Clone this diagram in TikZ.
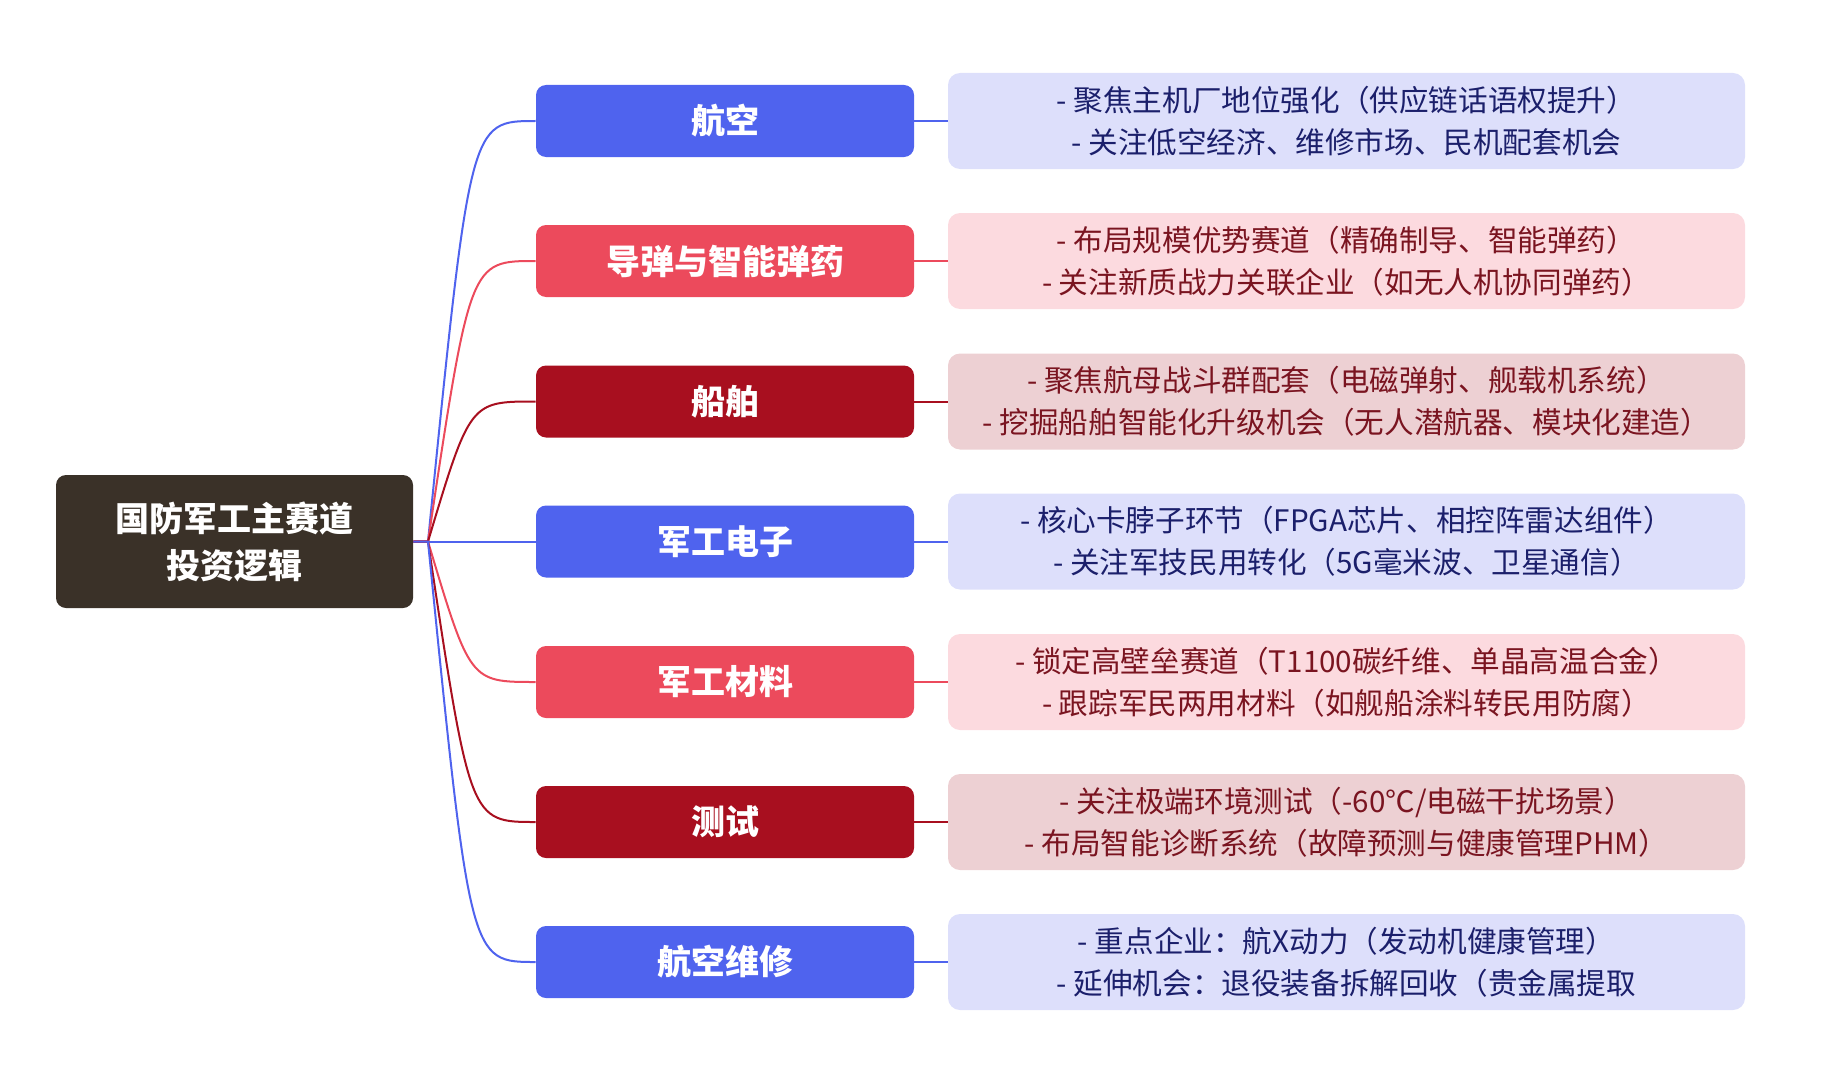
\documentclass[tikz,border=0pt]{standalone}
\usepackage{fontspec}
\setmainfont{Noto Sans CJK SC}
\usepackage{tikz}
\usetikzlibrary{calc}
\definecolor{rootbrown}{HTML}{3A3128}
\definecolor{hkblue}{HTML}{4F63EE}
\definecolor{hkbluebg}{HTML}{DDDFFB}
\definecolor{hkbluetx}{HTML}{1B1F6B}
\definecolor{hkred}{HTML}{EC4A5C}
\definecolor{hkredbg}{HTML}{FCDADF}
\definecolor{hkredtx}{HTML}{7A1420}
\definecolor{hkdark}{HTML}{A80F1F}
\definecolor{hkdarkbg}{HTML}{EDD0D3}

\begin{document}
\begin{tikzpicture}[x=0.5pt,y=-0.5pt,
  rootbox/.style={rounded corners=5pt,fill=rootbrown,text=white,minimum width=178.5pt,minimum height=66.5pt,align=center,font=\bfseries\fontsize{17}{23.5}\selectfont},
  branchbox/.style={rounded corners=5pt,text=white,minimum width=189pt,minimum height=36pt,font=\bfseries\fontsize{17}{20}\selectfont},
  detailbox/.style={rounded corners=6pt,minimum width=398.5pt,minimum height=48pt,align=center,font=\fontsize{14.8}{21}\selectfont},
  link/.style={line width=1pt}]
\useasboundingbox (0,0) rectangle (1830,1070);
\node[rootbox] (root) at (234.5,541.5) {国防军工主赛道\\投资逻辑};
\coordinate (jn) at (428,541.5);
\node[branchbox,fill=hkblue] (b0) at (725,121) {航空};
\node[branchbox,fill=hkred] (b1) at (725,261) {导弹与智能弹药};
\node[branchbox,fill=hkdark] (b2) at (725,401.5) {船舶};
\node[branchbox,fill=hkblue] (b3) at (725,541.5) {军工电子};
\node[branchbox,fill=hkred] (b4) at (725,682) {军工材料};
\node[branchbox,fill=hkdark] (b5) at (725,822) {测试};
\node[branchbox,fill=hkblue] (b6) at (725,962) {航空维修};
\node[detailbox,fill=hkbluebg,text=hkbluetx] (d0) at (1346.5,121) {- 聚焦主机厂地位强化（供应链话语权提升）\\- 关注低空经济、维修市场、民机配套机会};
\node[detailbox,fill=hkredbg,text=hkredtx] (d1) at (1346.5,261) {- 布局规模优势赛道（精确制导、智能弹药）\\- 关注新质战力关联企业（如无人机协同弹药）};
\node[detailbox,fill=hkdarkbg,text=hkredtx] (d2) at (1346.5,401.5) {- 聚焦航母战斗群配套（电磁弹射、舰载机系统）\\- 挖掘船舶智能化升级机会（无人潜航器、模块化建造）};
\node[detailbox,fill=hkbluebg,text=hkbluetx] (d3) at (1346.5,541.5) {- 核心卡脖子环节（FPGA芯片、相控阵雷达组件）\\- 关注军技民用转化（5G毫米波、卫星通信）};
\node[detailbox,fill=hkredbg,text=hkredtx] (d4) at (1346.5,682) {- 锁定高壁垒赛道（T1100碳纤维、单晶高温合金）\\- 跟踪军民两用材料（如舰船涂料转民用防腐）};
\node[detailbox,fill=hkdarkbg,text=hkredtx] (d5) at (1346.5,822) {- 关注极端环境测试（-60℃/电磁干扰场景）\\- 布局智能诊断系统（故障预测与健康管理PHM）};
\node[detailbox,fill=hkbluebg,text=hkbluetx] (d6) at (1346.5,962) {- 重点企业：航X动力（发动机健康管理）\\- 延伸机会：退役装备拆解回收（贵金属提取};
% root to branches
\draw[link,hkblue] (root.east) -- (jn) .. controls ($(jn |- b0)+(42,0)$) and ($(jn |- b0)+(42,0)$) .. (b0.west);
\draw[link,hkred] (root.east) -- (jn) .. controls ($(jn |- b1)+(42,0)$) and ($(jn |- b1)+(42,0)$) .. (b1.west);
\draw[link,hkdark] (root.east) -- (jn) .. controls ($(jn |- b2)+(42,0)$) and ($(jn |- b2)+(42,0)$) .. (b2.west);
\draw[link,hkblue] (root.east) -- (b3.west);
\draw[link,hkred] (root.east) -- (jn) .. controls ($(jn |- b4)+(42,0)$) and ($(jn |- b4)+(42,0)$) .. (b4.west);
\draw[link,hkdark] (root.east) -- (jn) .. controls ($(jn |- b5)+(42,0)$) and ($(jn |- b5)+(42,0)$) .. (b5.west);
\draw[link,hkblue] (root.east) -- (jn) .. controls ($(jn |- b6)+(42,0)$) and ($(jn |- b6)+(42,0)$) .. (b6.west);
% branches to details
\draw[link,hkblue] (b0.east) -- (d0.west);
\draw[link,hkred] (b1.east) -- (d1.west);
\draw[link,hkdark] (b2.east) -- (d2.west);
\draw[link,hkblue] (b3.east) -- (d3.west);
\draw[link,hkred] (b4.east) -- (d4.west);
\draw[link,hkdark] (b5.east) -- (d5.west);
\draw[link,hkblue] (b6.east) -- (d6.west);
\end{tikzpicture}
\end{document}
